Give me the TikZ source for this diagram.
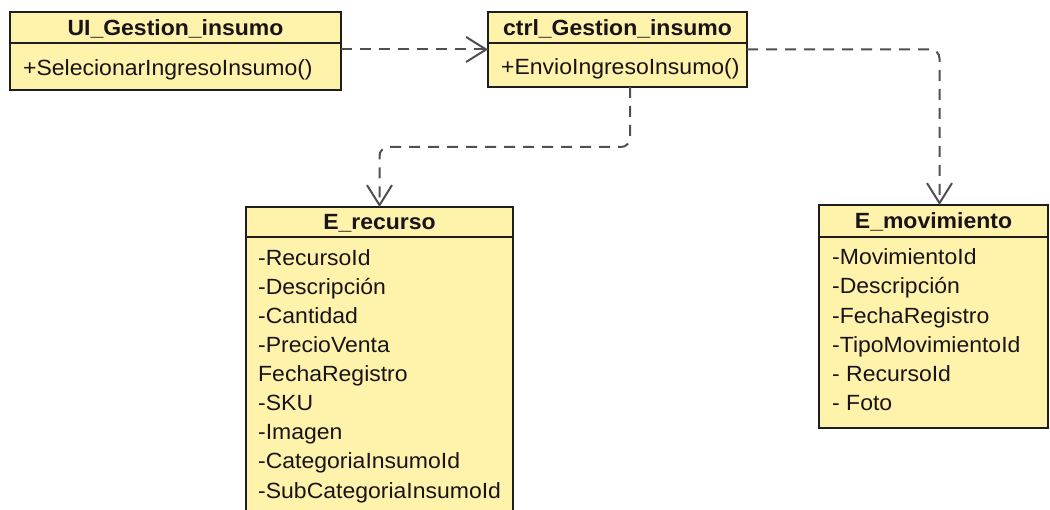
\documentclass[tikz,border=0pt]{standalone}
\usepackage{fontspec}
\setmainfont[FakeStretch=1.045]{Liberation Sans}
\usetikzlibrary{arrows.meta,calc}
\definecolor{umlfill}{RGB}{255,242,170}
\definecolor{umlline}{RGB}{30,30,30}
\definecolor{umltext}{RGB}{25,20,25}
\definecolor{depline}{RGB}{80,80,80}
\begin{document}
\begin{tikzpicture}[x=1pt,y=-1pt,
 box/.style={draw=umlline,line width=1.5pt,fill=umlfill,inner sep=0pt,outer sep=0pt,anchor=north west},
 ttl/.style={font=\fontsize{22}{26}\selectfont\bfseries,text=umltext,inner sep=0pt,anchor=base},
 attr/.style={font=\fontsize{22}{29}\selectfont,text=umltext,inner sep=0pt,anchor=base west},
 divl/.style={draw=umlline,line width=1.5pt},
 dep/.style={draw=depline,line width=2pt,dash pattern=on 11pt off 8pt,rounded corners=9pt,
   -{Straight Barb[length=20pt,width=25pt,line width=2pt]}}]
\useasboundingbox (0,0) rectangle (1050,510);
\clip (0,0) rectangle (1050,510);
\fill[white] (0,0) rectangle (1050,510);

% UI box
\node[box,minimum width=331pt,minimum height=78pt] (ui) at (10,12) {};
\draw[divl] ([yshift=-31pt]ui.north west) -- ([yshift=-31pt]ui.north east);
\node[ttl] (uit) at ($(ui.north)+(0,23.5)$) {UI\_Gestion\_insumo};
\node[attr] (uim) at ($(ui.north west)+(13,64)$) {+SelecionarIngresoInsumo()};

% ctrl box
\node[box,minimum width=259pt,minimum height=75pt] (ctrl) at (488,12) {};
\draw[divl] ([yshift=-31pt]ctrl.north west) -- ([yshift=-31pt]ctrl.north east);
\node[ttl] (ctrlt) at ($(ctrl.north)+(0,23.5)$) {ctrl\_Gestion\_insumo};
\node[attr] (ctrlm) at ($(ctrl.north west)+(13,63)$) {+EnvioIngresoInsumo()};

% E_recurso box
\node[box,minimum width=267pt,minimum height=330pt] (rec) at (246,207) {};
\draw[divl] ([yshift=-30pt]rec.north west) -- ([yshift=-30pt]rec.north east);
\node[ttl] (rect) at ($(rec.north)+(0,23)$) {E\_recurso};
\node[attr] (r1) at ($(rec.north west)+(12,59)$) {-RecursoId};
\node[attr] (r2) at ($(rec.north west)+(12,88)$) {-Descripción};
\node[attr] (r3) at ($(rec.north west)+(12,117)$) {-Cantidad};
\node[attr] (r4) at ($(rec.north west)+(12,146)$) {-PrecioVenta};
\node[attr] (r5) at ($(rec.north west)+(12,175)$) {FechaRegistro};
\node[attr] (r6) at ($(rec.north west)+(12,204)$) {-SKU};
\node[attr] (r7) at ($(rec.north west)+(12,233)$) {-Imagen};
\node[attr] (r8) at ($(rec.north west)+(12,262)$) {-CategoriaInsumoId};
\node[attr] (r9) at ($(rec.north west)+(12,291)$) {-SubCategoriaInsumoId};

% E_movimiento box
\node[box,minimum width=229pt,minimum height=223pt] (mov) at (819,205) {};
\draw[divl] ([yshift=-32pt]mov.north west) -- ([yshift=-32pt]mov.north east);
\node[ttl] (movt) at ($(mov.north)+(0,24)$) {E\_movimiento};
\node[attr] (m1) at ($(mov.north west)+(13,60)$) {-MovimientoId};
\node[attr] (m2) at ($(mov.north west)+(13,89)$) {-Descripción};
\node[attr] (m3) at ($(mov.north west)+(13,118.5)$) {-FechaRegistro};
\node[attr] (m4) at ($(mov.north west)+(13,148)$) {-TipoMovimientoId};
\node[attr] (m5) at ($(mov.north west)+(13,177)$) {- RecursoId};
\node[attr] (m6) at ($(mov.north west)+(13,206)$) {- Foto};

% connectors
\draw[dep] (ui.east |- ctrl.west) -- (ctrl.west);
\draw[dep] ([xshift=12.5pt]ctrl.south) -- ++(0,60) -| (rec.north);
\draw[dep] (ctrl.east) -| ([xshift=6pt]mov.north);
\end{tikzpicture}
\end{document}
